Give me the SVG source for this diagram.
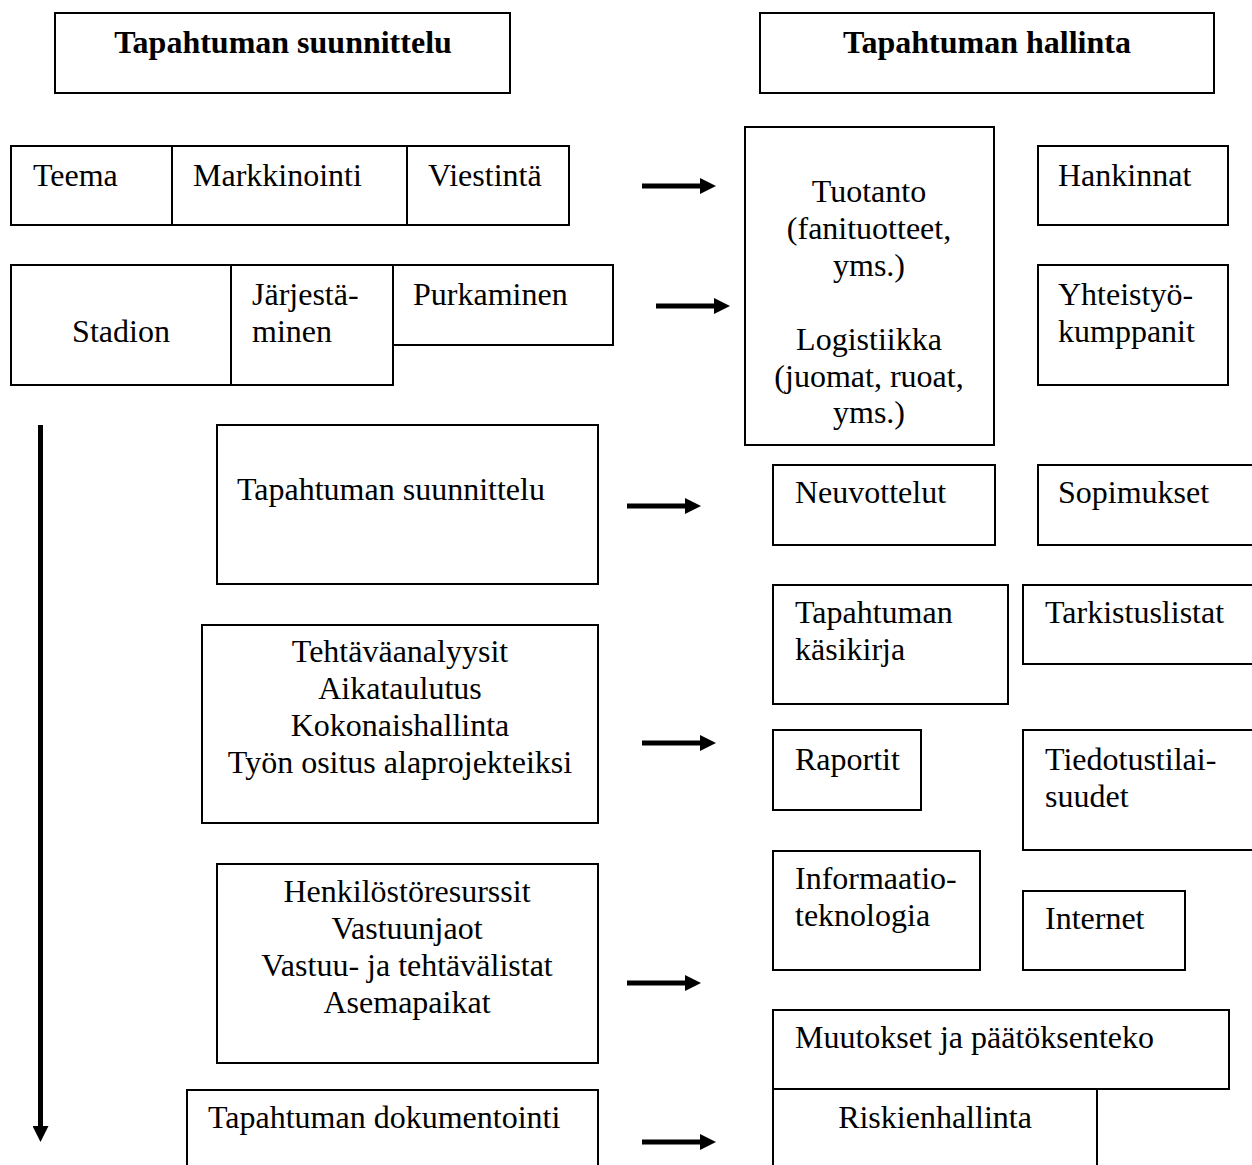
<svg xmlns="http://www.w3.org/2000/svg" width="1252" height="1165" viewBox="0 0 1252 1165">
<style>
.b{fill:none;stroke:#000;stroke-width:2}
text{font-family:"Liberation Serif","Times New Roman",serif;font-size:32px;fill:#000}
.h{font-weight:bold}
.c{text-anchor:middle}
.a{stroke:#000;stroke-width:5;fill:none}
</style>
<defs>
<marker id="ah" viewBox="0 0 16 16" refX="1" refY="8" markerWidth="16" markerHeight="16" markerUnits="userSpaceOnUse" orient="auto">
<path d="M0,0 L16,8 L0,16 Z" fill="#000"/>
</marker>
</defs>
<rect width="1252" height="1165" fill="#fff"/>
<g id="hdr-suunnittelu"><rect class="b" x="55" y="13" width="455" height="80"/><text class="h c" x="283" y="53">Tapahtuman suunnittelu</text></g>
<g id="hdr-hallinta"><rect class="b" x="760" y="13" width="454" height="80"/><text class="h c" x="987" y="53">Tapahtuman hallinta</text></g>
<g id="teema"><rect class="b" x="11" y="146" width="161" height="79"/><text x="33" y="186">Teema</text></g>
<g id="markkinointi"><rect class="b" x="172" y="146" width="235" height="79"/><text x="193" y="186">Markkinointi</text></g>
<g id="viestinta"><rect class="b" x="407" y="146" width="162" height="79"/><text x="428" y="186">Viestintä</text></g>
<g id="stadion"><rect class="b" x="11" y="265" width="220" height="120"/><text class="c" x="121" y="342">Stadion</text></g>
<g id="jarjestaminen"><rect class="b" x="231" y="265" width="162" height="120"/><text x="252" y="305">Järjestä-</text><text x="252" y="342">minen</text></g>
<g id="purkaminen"><rect class="b" x="393" y="265" width="220" height="80"/><text x="413" y="305">Purkaminen</text></g>
<g id="tuotanto"><rect class="b" x="745" y="127" width="249" height="318"/>
<text class="c" x="869" y="202">Tuotanto</text><text class="c" x="869" y="239">(fanituotteet,</text><text class="c" x="869" y="276">yms.)</text>
<text class="c" x="869" y="350">Logistiikka</text><text class="c" x="869" y="387">(juomat, ruoat,</text><text class="c" x="869" y="423">yms.)</text></g>
<g id="hankinnat"><rect class="b" x="1038" y="146" width="190" height="79"/><text x="1058" y="186">Hankinnat</text></g>
<g id="yhteistyo"><rect class="b" x="1038" y="265" width="190" height="120"/><text x="1058" y="305">Yhteistyö-</text><text x="1058" y="342">kumppanit</text></g>
<g id="suunnittelu"><rect class="b" x="217" y="425" width="381" height="159"/><text x="237" y="500">Tapahtuman suunnittelu</text></g>
<g id="neuvottelut"><rect class="b" x="773" y="465" width="222" height="80"/><text x="795" y="503">Neuvottelut</text></g>
<g id="sopimukset"><rect class="b" x="1038" y="465" width="220" height="80"/><text x="1058" y="503">Sopimukset</text></g>
<g id="tehtava"><rect class="b" x="202" y="625" width="396" height="198"/>
<text class="c" x="400" y="662">Tehtäväanalyysit</text><text class="c" x="400" y="699">Aikataulutus</text><text class="c" x="400" y="736">Kokonaishallinta</text><text class="c" x="400" y="773">Työn ositus alaprojekteiksi</text></g>
<g id="kasikirja"><rect class="b" x="773" y="585" width="235" height="119"/><text x="795" y="623">Tapahtuman</text><text x="795" y="660">käsikirja</text></g>
<g id="tarkistuslistat"><rect class="b" x="1023" y="585" width="235" height="79"/><text x="1045" y="623">Tarkistuslistat</text></g>
<g id="raportit"><rect class="b" x="773" y="730" width="148" height="80"/><text x="795" y="770">Raportit</text></g>
<g id="tiedotus"><rect class="b" x="1023" y="730" width="235" height="120"/><text x="1045" y="770">Tiedotustilai-</text><text x="1045" y="807">suudet</text></g>
<g id="it"><rect class="b" x="773" y="851" width="207" height="119"/><text x="795" y="889">Informaatio-</text><text x="795" y="926">teknologia</text></g>
<g id="internet"><rect class="b" x="1023" y="891" width="162" height="79"/><text x="1045" y="929">Internet</text></g>
<g id="henkilosto"><rect class="b" x="217" y="864" width="381" height="199"/>
<text class="c" x="407" y="902">Henkilöstöresurssit</text><text class="c" x="407" y="939">Vastuunjaot</text><text class="c" x="407" y="976">Vastuu- ja tehtävälistat</text><text class="c" x="407" y="1013">Asemapaikat</text></g>
<g id="muutokset"><rect class="b" x="773" y="1010" width="456" height="79"/><text x="795" y="1048">Muutokset ja päätöksenteko</text></g>
<g id="riski"><path class="b" d="M773,1089 V1170 M1097,1089 V1170"/><text class="c" x="935" y="1128">Riskienhallinta</text></g>
<g id="dokumentointi"><path class="b" d="M187,1170 V1090 H598 V1170"/><text x="208" y="1128">Tapahtuman dokumentointi</text></g>
<g id="connectors">
<line class="a" x1="642" y1="186" x2="701" y2="186" marker-end="url(#ah)"/>
<line class="a" x1="656" y1="306" x2="715" y2="306" marker-end="url(#ah)"/>
<line class="a" x1="627" y1="506" x2="686" y2="506" marker-end="url(#ah)"/>
<line class="a" x1="642" y1="743" x2="701" y2="743" marker-end="url(#ah)"/>
<line class="a" x1="627" y1="983" x2="686" y2="983" marker-end="url(#ah)"/>
<line class="a" x1="642" y1="1142" x2="701" y2="1142" marker-end="url(#ah)"/>
<line class="a" x1="40.5" y1="425" x2="40.5" y2="1127" marker-end="url(#ah)"/>
</g>
</svg>
